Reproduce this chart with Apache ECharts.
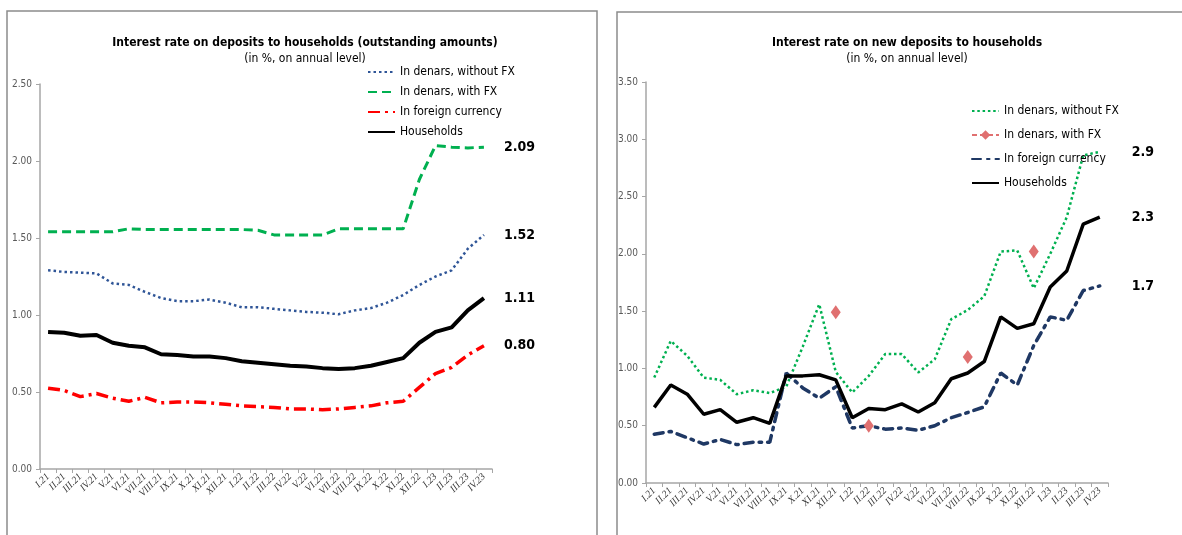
<!DOCTYPE html>
<html>
<head>
<meta charset="utf-8">
<script src="https://cdn.jsdelivr.net/npm/echarts@6/dist/echarts.min.js"></script>
<style>
  html, body { margin: 0; padding: 0; background: #fff; }
  #chart { width: 1182px; height: 535px; }
</style>
</head>
<body>
<div id="chart"></div>
<script>
// months I.21 .. IV.23
var months = ['I.21','II.21','III.21','IV.21','V.21','VI.21','VII.21','VIII.21','IX.21','X.21','XI.21','XII.21',
  'I.22','II.22','III.22','IV.22','V.22','VI.22','VII.22','VIII.22','IX.22','X.22','XI.22','XII.22',
  'I.23','II.23','III.23','IV.23'];

var leftYTicks = [0, 2.5, 0.5];   // min, max, interval
var rightYTicks = [0, 3.5, 0.5];

// outstanding amounts
var outWithoutFX = [1.29,1.28,1.275,1.27,1.205,1.195,1.15,1.11,1.09,1.09,1.10,1.08,1.05,1.05,1.04,1.03,1.02,1.015,1.005,1.03,1.045,1.08,1.13,1.195,1.25,1.29,1.43,1.52];
var outWithFX = [1.54,1.54,1.54,1.54,1.54,1.56,1.555,1.555,1.555,1.555,1.555,1.555,1.555,1.55,1.52,1.52,1.52,1.52,1.56,1.56,1.56,1.56,1.56,1.88,2.10,2.09,2.085,2.09];
var outForeign = [0.525,0.51,0.47,0.49,0.46,0.44,0.465,0.43,0.435,0.435,0.43,0.42,0.41,0.405,0.40,0.39,0.39,0.385,0.39,0.40,0.41,0.43,0.44,0.53,0.62,0.66,0.74,0.80];
var outHouseholds = [0.89,0.885,0.865,0.87,0.82,0.80,0.79,0.745,0.74,0.73,0.73,0.72,0.70,0.69,0.68,0.67,0.665,0.655,0.65,0.655,0.67,0.695,0.72,0.82,0.89,0.92,1.03,1.11];

// new deposits
var newWithoutFX = [0.92,1.24,1.11,0.92,0.90,0.775,0.81,0.785,0.84,1.19,1.56,0.97,0.79,0.935,1.125,1.125,0.965,1.08,1.43,1.51,1.63,2.02,2.03,1.70,2.0,2.32,2.86,2.89];
var newWithFX = [null,null,null,null,null,null,null,null,null,null,null,1.49,null,0.50,null,null,null,null,null,1.10,null,null,null,2.02,null,null,null,null];
var newForeign = [0.425,0.45,0.395,0.34,0.38,0.335,0.355,0.355,0.96,0.83,0.74,0.84,0.48,0.50,0.47,0.48,0.46,0.50,0.57,0.615,0.665,0.96,0.855,1.2,1.45,1.42,1.68,1.72];
var newHouseholds = [0.66,0.855,0.775,0.60,0.64,0.53,0.57,0.52,0.935,0.935,0.945,0.90,0.57,0.65,0.64,0.69,0.62,0.70,0.91,0.96,1.06,1.45,1.35,1.39,1.71,1.85,2.26,2.32];

var narrow = "'Liberation Sans Narrow', 'DejaVu Sans Condensed', sans-serif";

var myChart = echarts.init(document.getElementById('chart'));

function xAx(gi) {
	return {
		type: 'category',
		gridIndex: gi,
		data: months,
		boundaryGap: true,
		axisLine: { lineStyle: { color: '#A6A6A6', width: 1.5 } },
		axisTick: { show: true, length: 4, lineStyle: { color: '#A6A6A6' } },
		axisLabel: {
			interval: 0,
			rotate: 45,
			margin: 6,
			fontSize: 10,
			fontStyle: 'italic',
			fontFamily: "'Liberation Serif', serif",
			color: '#333'
		},
		splitLine: { show: false }
	};
}
function yAx(gi, t) {
	return {
		type: 'value',
		gridIndex: gi,
		min: t[0],
		max: t[1],
		interval: t[2],
		axisLine: { show: true, lineStyle: { color: '#A6A6A6', width: 1.5 } },
		axisTick: { show: true, length: 4, lineStyle: { color: '#A6A6A6' } },
		axisLabel: {
			margin: 8,
			fontSize: 10,
			fontFamily: narrow,
			color: '#595959',
			formatter: function (v) { return v.toFixed(2); }
		},
		splitLine: { show: false }
	};
}
function endLbl(dec, dist) {
	return {
		show: true,
		distance: dist,
		fontSize: 14,
		fontWeight: 'bold',
		fontFamily: narrow,
		color: '#000',
		formatter: function (p) { return p.value.toFixed(dec); }
	};
}

var option = {
	animation: false,
	backgroundColor: '#fff',
	title: [
		{
			text: 'Interest rate on deposits to households (outstanding amounts)',
			subtext: '(in %, on annual level)',
			left: 300, top: 32, textAlign: 'center', itemGap: 4,
			textStyle: { fontSize: 12, fontWeight: 'bold', fontFamily: narrow, color: '#000' },
			subtextStyle: { fontSize: 12, fontFamily: narrow, color: '#000' }
		},
		{
			text: 'Interest rate on new deposits to households',
			subtext: '(in %, on annual level)',
			left: 902, top: 32, textAlign: 'center', itemGap: 4,
			textStyle: { fontSize: 12, fontWeight: 'bold', fontFamily: narrow, color: '#000' },
			subtextStyle: { fontSize: 12, fontFamily: narrow, color: '#000' }
		}
	],
	legend: [
		{
			orient: 'vertical', left: 362, top: 61,
			itemWidth: 27, itemHeight: 10, itemGap: 8,
			itemStyle: { opacity: 0 },
			textStyle: { fontSize: 12, fontFamily: narrow, color: '#000' },
			data: ['In denars, without FX', 'In denars, with FX', 'In foreign currency', 'Households']
		},
		{
			orient: 'vertical', left: 966, top: 100,
			itemWidth: 27, itemHeight: 12, itemGap: 12,
			itemStyle: { opacity: 0 },
			textStyle: { fontSize: 12, fontFamily: narrow, color: '#000' },
			data: ['In denars, without FX ',
				{ name: 'In denars, with FX ', itemStyle: { opacity: 1 } },
				'In foreign currency ', 'Households ']
		}
	],
	graphic: [
		{ type: 'rect', shape: { x: 7, y: 11, width: 590, height: 540 }, style: { fill: 'none', stroke: '#8C8C8C', lineWidth: 1.5 } },
		{ type: 'rect', shape: { x: 617, y: 12, width: 600, height: 540 }, style: { fill: 'none', stroke: '#8C8C8C', lineWidth: 1.5 } }
	],
	grid: [
		{ left: 40, right: 690, top: 84, bottom: 66 },
		{ left: 646, right: 74, top: 82, bottom: 52 }
	],
	xAxis: [xAx(0), xAx(1)],
	yAxis: [yAx(0, leftYTicks), yAx(1, rightYTicks)],
	series: [
		{
			name: 'In denars, without FX', type: 'line', xAxisIndex: 0, yAxisIndex: 0,
			data: outWithoutFX, symbol: 'none', color: '#2F5597',
			lineStyle: { width: 2.5, type: [2.5, 3] },
			endLabel: endLbl(2, 20)
		},
		{
			name: 'In denars, with FX', type: 'line', xAxisIndex: 0, yAxisIndex: 0,
			data: outWithFX, symbol: 'none', color: '#00B050',
			lineStyle: { width: 3, type: [9, 5] },
			endLabel: endLbl(2, 20)
		},
		{
			name: 'In foreign currency', type: 'line', xAxisIndex: 0, yAxisIndex: 0,
			data: outForeign, symbol: 'none', color: '#FF0000',
			lineStyle: { width: 3.5, type: [12, 5, 3, 5] },
			endLabel: endLbl(2, 20)
		},
		{
			name: 'Households', type: 'line', xAxisIndex: 0, yAxisIndex: 0,
			data: outHouseholds, symbol: 'none', color: '#000',
			lineStyle: { width: 4 },
			endLabel: endLbl(2, 20)
		},
		{
			name: 'In denars, without FX ', type: 'line', xAxisIndex: 1, yAxisIndex: 1,
			data: newWithoutFX, symbol: 'none', color: '#00B050',
			lineStyle: { width: 2.5, type: [2.5, 2.8] },
			endLabel: endLbl(1, 32)
		},
		{
			name: 'In denars, with FX ', type: 'line', xAxisIndex: 1, yAxisIndex: 1,
			data: newWithFX, symbol: 'diamond', symbolSize: [10, 14], showSymbol: true,
			connectNulls: false, color: '#E07070',
			itemStyle: { color: '#E07070' },
			lineStyle: { width: 2, type: [5, 3] }
		},
		{
			name: 'In foreign currency ', type: 'line', xAxisIndex: 1, yAxisIndex: 1,
			data: newForeign, symbol: 'none', color: '#1F3864',
			lineStyle: { width: 3.5, type: [9, 6, 2.5, 6], cap: 'round' },
			endLabel: endLbl(1, 32)
		},
		{
			name: 'Households ', type: 'line', xAxisIndex: 1, yAxisIndex: 1,
			data: newHouseholds, symbol: 'none', color: '#000',
			lineStyle: { width: 3.5 },
			endLabel: endLbl(1, 32)
		}
	]
};

myChart.setOption(option);
</script>
</body>
</html>
